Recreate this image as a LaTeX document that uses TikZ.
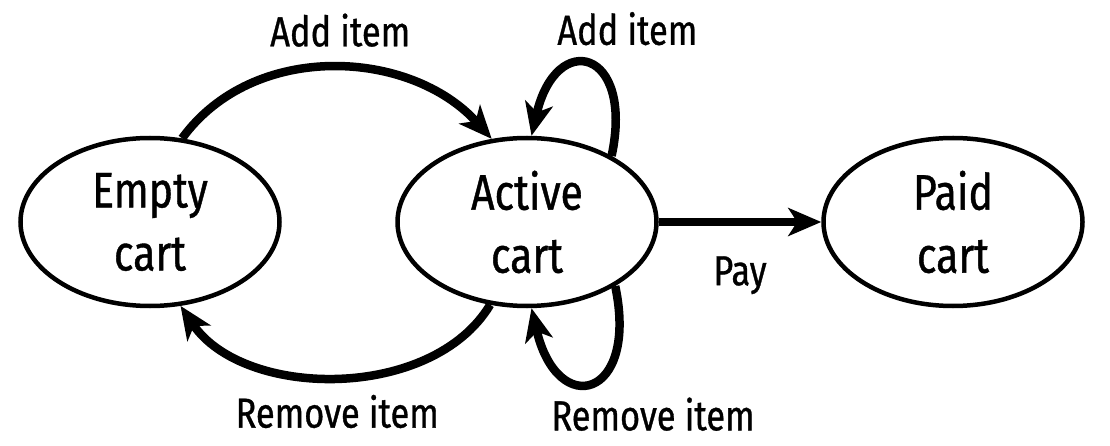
\documentclass[tikz,border=0pt]{standalone}
\usepackage{fontspec}
\setmainfont[FakeStretch=0.82,FakeBold=0.8]{Fira Sans}
\usetikzlibrary{shapes.geometric,arrows.meta}

\begin{document}
\begin{tikzpicture}
[x=1pt,y=-1pt,
 cart/.style={ellipse,draw,line width=4.5pt,minimum width=259pt,minimum height=168pt,inner sep=0pt,align=center,font=\fontsize{50}{63}\selectfont},
 move/.style={line width=8.5pt,-{Stealth[length=33pt,width=28pt,inset=9pt]}},
 word/.style={inner sep=0pt,font=\fontsize{42}{50}\selectfont}]

\useasboundingbox (0,0) rectangle (1110,446);

\node (empty) at (150,222) [cart] {Empty\\cart};
\node (active) at (527,222) [cart] {Active\\cart};
\node (paid) at (953,222) [cart] {Paid\\cart};

\draw [move] (empty.69) to [out=54,in=132] node [midway,above=17pt,xshift=7pt,word]{Add item} (active.113);
\draw [move] (active.246) to [out=239,in=304,looseness=0.93] node [midway,below=14pt,word]{Remove item} (empty.290);
\draw [move] (active.38) to [out=78,in=77,looseness=3.4] node [midway,above=16pt,xshift=38pt,word]{Add item} (active.87);
\draw [move] (active.324) to [out=-78,in=-77,looseness=3.4] node [midway,below=12pt,xshift=61pt,word]{Remove item} (active.273);
\draw [move] (active) -- (paid) node [midway,below=30pt,word]{Pay};
\end{tikzpicture}
\end{document}
